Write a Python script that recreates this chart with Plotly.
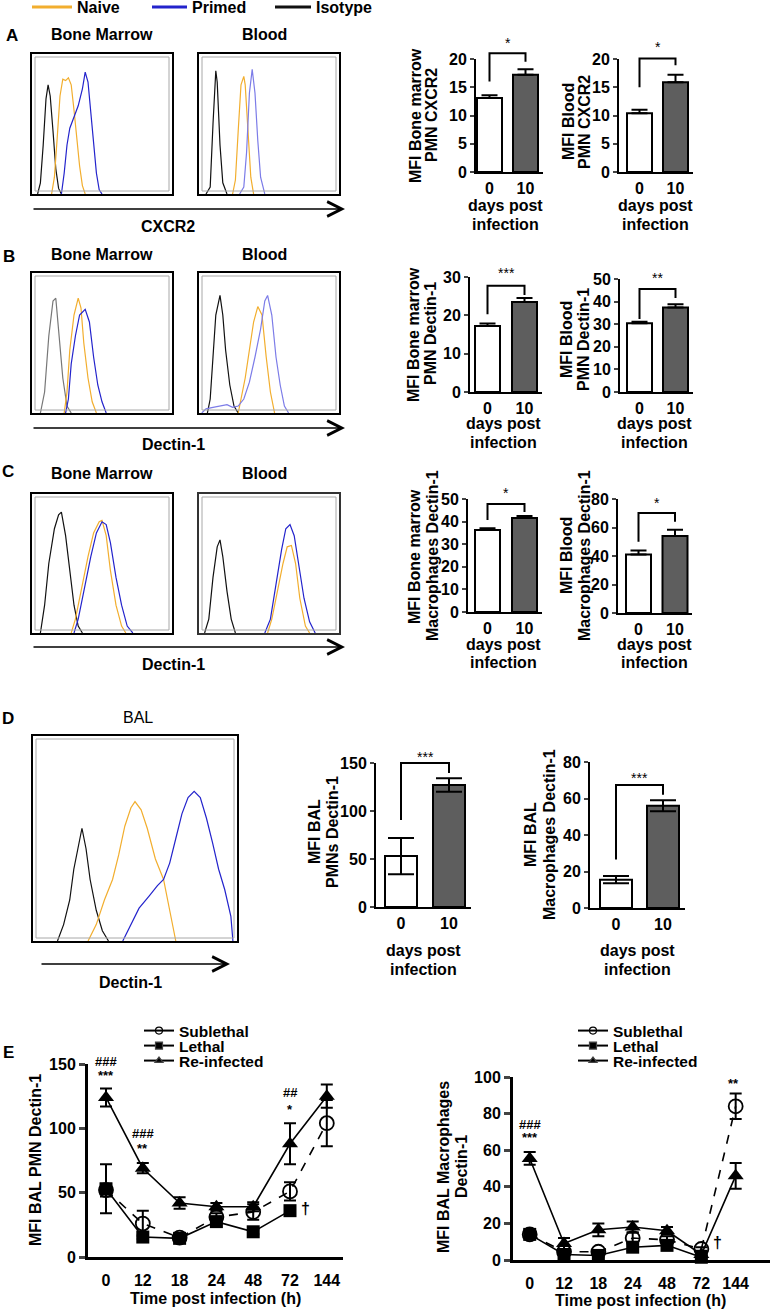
import plotly.graph_objects as go

W, H = 770, 1309
FONT = "Liberation Sans, Arial, sans-serif"
NAIVE_C = "#F2AE2E"
PRIMED_C = "#2323CC"
PRIMED_LIGHT = "#7C7CE8"
ISO_C = "#111111"
ISO_GREY = "#777777"
DARK_BAR = "#5E5E5E"

# ---------------- data ----------------
legend_names = ["Naive", "Primed", "Isotype"]

# flow histograms: (position %, height %)
A_BM_iso = [(4, 0), (6, 8), (8, 35), (10, 68), (11.5, 78), (13, 70), (15, 45), (17, 18), (19, 4), (21, 0)]
A_BM_naive = [(14, 0), (16, 12), (18, 40), (20, 70), (22, 82), (24, 81), (26, 83), (28, 78), (30, 60), (32, 40), (34, 20), (36, 6), (38, 0)]
A_BM_primed = [(21, 0), (23, 15), (25, 35), (27, 47), (30, 55), (33, 63), (36, 75), (38, 87), (40, 80), (42, 60), (44, 40), (46, 15), (48, 3), (50, 0)]
A_BL_iso = [(5, 0), (8, 5), (10, 50), (12, 88), (13, 80), (15, 35), (17, 8), (20, 0)]
A_BL_naive = [(24, 0), (26, 10), (28, 45), (30, 78), (32, 84), (33, 78), (35, 45), (37, 12), (39, 0)]
A_BL_primed = [(29, 0), (32, 5), (34, 30), (36, 72), (38, 89), (40, 72), (42, 38), (44, 12), (47, 0)]
B_BM_iso = [(6, 0), (9, 15), (12, 55), (15, 80), (17, 82), (19, 60), (22, 25), (25, 5), (28, 0)]
B_BM_naive = [(23, 0), (25, 15), (27, 45), (30, 70), (33, 82), (35, 75), (37, 50), (40, 25), (43, 8), (46, 0)]
B_BM_primed = [(24, 0), (26, 10), (28, 35), (31, 55), (34, 70), (38, 74), (41, 65), (44, 40), (47, 20), (50, 8), (53, 0)]
B_BL_iso = [(6, 0), (8, 10), (10, 40), (12, 70), (15, 84), (17, 70), (19, 45), (22, 20), (25, 5), (28, 0)]
B_BL_naive = [(28, 0), (30, 10), (33, 25), (36, 45), (39, 65), (42, 76), (45, 70), (48, 40), (51, 15), (54, 0)]
B_BL_primed = [(2, 0), (5, 3), (10, 4), (15, 5), (20, 6), (24, 4), (28, 5), (32, 10), (36, 22), (40, 40), (44, 60), (47, 80), (49, 84), (52, 70), (55, 40), (58, 20), (61, 5), (64, 0)]
C_BM_iso = [(6, 0), (9, 20), (12, 50), (16, 75), (19, 85), (21, 87), (24, 70), (27, 45), (30, 20), (33, 5), (36, 0)]
C_BM_naive = [(28, 0), (31, 10), (35, 30), (40, 55), (44, 72), (48, 80), (50, 81), (53, 70), (56, 45), (60, 20), (64, 5), (67, 0)]
C_BM_primed = [(30, 0), (33, 10), (37, 30), (42, 55), (46, 72), (50, 80), (53, 78), (56, 65), (60, 40), (64, 20), (68, 5), (72, 0)]
C_BL_iso = [(4, 0), (7, 10), (10, 40), (13, 62), (15, 67), (17, 55), (20, 30), (23, 10), (26, 0)]
C_BL_naive = [(49, 0), (52, 10), (56, 30), (60, 50), (63, 62), (66, 63), (69, 50), (72, 25), (76, 5), (79, 0)]
C_BL_primed = [(47, 0), (51, 10), (55, 35), (59, 60), (62, 75), (65, 78), (68, 70), (71, 50), (75, 25), (79, 8), (83, 0)]
D_iso = [(12, 0), (15, 8), (18, 20), (20, 35), (22, 45), (24, 55), (26, 45), (28, 30), (31, 15), (34, 5), (37, 0)]
D_naive = [(27, 0), (31, 8), (35, 20), (39, 30), (42, 42), (45, 56), (48, 65), (50, 68), (53, 64), (56, 55), (60, 40), (64, 30), (67, 15), (70, 0)]
D_primed = [(44, 0), (48, 8), (52, 16), (57, 22), (61, 27), (64, 30), (67, 38), (70, 50), (73, 62), (76, 70), (79, 73), (82, 70), (85, 60), (88, 48), (91, 35), (94, 25), (97, 12), (98, 0)]

# bar charts
bar_days = ["0", "10"]
A_BM_mfi = [13.1, 17.2]; A_BM_err = [0.5, 1.0]
A_BL_mfi = [10.4, 15.9]; A_BL_err = [0.6, 1.3]
B_BM_mfi = [17.2, 23.5]; B_BM_err = [0.7, 1.0]
B_BL_mfi = [30.4, 37.4]; B_BL_err = [0.7, 1.4]
C_BM_mfi = [36.3, 41.6]; C_BM_err = [0.8, 0.9]
C_BL_mfi = [41.0, 54.0]; C_BL_err = [2.8, 4.5]
D_PMN_mfi = [53, 127]; D_PMN_err = [19, 7]
D_MAC_mfi = [15.5, 56]; D_MAC_err = [2, 3]
# significance brackets: (left leg bottom, right leg bottom, top, star level, label)
A_BM_sig = (16.0, 19.5, 21.0, 22.8, "*")
A_BL_sig = (15.0, 18.9, 20.1, 22.1, "*")
B_BM_sig = (20.3, 25.3, 27.7, 31.0, "***")
B_BL_sig = (32.3, 41.6, 45.6, 50.4, "**")
C_BM_sig = (40.7, 44.2, 47.8, 52.7, "*")
C_BL_sig = (50.0, 64.0, 70.2, 77.0, "*")
D_PMN_sig = (90.6, 139.6, 150.0, 156.0, "***")
D_MAC_sig = (26.6, 62.0, 67.4, 71.5, "***")

# time course
hours = ["0", "12", "18", "24", "48", "72", "144"]
E_PMN_sub = [52, 26, 15, 31, 35, 51, 104]; E_PMN_sub_err = [5, 10, 1.5, 3, 6, 7, 18]
E_PMN_let = [53, 15.5, 14.5, 27.5, 19.6, 36, None]; E_PMN_let_err = [19, 1.5, 1.5, 2, 2, 2, None]
E_PMN_re = [124, 69, 42, 39, 39, 88, 125]; E_PMN_re_err = [7, 4, 4.5, 3, 3.5, 16, 9]
E_MAC_sub = [14, 4.5, 4.5, 12, 11, 6, 84]; E_MAC_sub_err = [2, 1, 1, 3, 2, 1, 7]
E_MAC_let = [14, 3, 2.5, 7, 8, 1.5, None]; E_MAC_let_err = [2, 1, 1, 2, 2, 1, None]
E_MAC_re = [55.5, 9, 16.5, 18, 16, 3, 46]; E_MAC_re_err = [3.5, 3, 3.5, 3, 2, 1, 7]
series_names = ["Sublethal", "Lethal", "Re-infected"]
# significance marks (category position, value, text)
E_PMN_marks = [(0, 152, "###"), (0, 141, "***"), (1, 95.6, "###"), (1, 84, "**"),
               (5, 128, "##"), (5, 115, "*"), (5.42, 38, "†")]
E_MAC_marks = [(0, 74, "###"), (0, 67, "***"), (5.93, 96.5, "**"), (5.46, 9.3, "†")]

# ---------------- helpers ----------------
fig = go.Figure()
layout = {}
annotations = []
shapes = []
counter = [0]


def new_axes():
    counter[0] += 1
    return counter[0]


def xname(n):
    return "xaxis" if n == 1 else f"xaxis{n}"


def yname(n):
    return "yaxis" if n == 1 else f"yaxis{n}"


def xr(n):
    return "x" if n == 1 else f"x{n}"


def yr(n):
    return "y" if n == 1 else f"y{n}"


def px(p):
    return p / W


def py(p):
    return 1 - p / H


def text(x, y, t, size=16, bold=True, angle=0, xanchor="center", color="black"):
    annotations.append(dict(x=px(x), y=py(y), xref="paper", yref="paper", text=t, showarrow=False,
                            textangle=angle, xanchor=xanchor, yanchor="middle",
                            font=dict(size=size, family=FONT, color=color, weight="bold" if bold else "normal")))


def vtitle(lines_x, y, lines):
    for lx, t in zip(lines_x, lines):
        text(lx, y, t, angle=-90)


def htitle(x, lines_y, lines):
    for ly, t in zip(lines_y, lines):
        text(x, ly, t)


def arrow(x0, x1, y):
    annotations.append(dict(x=px(x1), y=py(y), ax=-(x1 - x0), ay=0, xref="paper", yref="paper",
                            axref="pixel", ayref="pixel", text="", showarrow=True, arrowhead=5,
                            arrowsize=1.8, arrowwidth=1.6, arrowcolor="black", standoff=0, startstandoff=0))


def ext_axis(n, zero_py, top_py, top_val, ext):
    """invisible y axis sharing the scale of yaxis n but reaching higher (for marks above the axis)"""
    m = new_axes()
    layout[yname(m)] = dict(domain=[py(zero_py), py(top_py - ext)],
                            range=[0, top_val * (zero_py - top_py + ext) / (zero_py - top_py)],
                            anchor=xr(n), visible=False, fixedrange=True)
    return m


def hist_panel(box, curves, framecolor="black"):
    x0, y0, x1, y1 = box
    n = new_axes()
    common = dict(showline=True, mirror=True, linecolor=framecolor, linewidth=2, showgrid=False,
                  zeroline=False, showticklabels=False, ticks="", fixedrange=True)
    layout[xname(n)] = dict(domain=[px(x0), px(x1)], range=[0, 100], anchor=yr(n), **common)
    layout[yname(n)] = dict(domain=[py(y1), py(y0)], range=[0, 100], anchor=xr(n), **common)
    for pts, color in curves:
        fig.add_trace(go.Scatter(x=[p[0] for p in pts], y=[p[1] for p in pts], mode="lines",
                                 line=dict(color=color, width=1.2), xaxis=xr(n), yaxis=yr(n),
                                 showlegend=False, hoverinfo="skip"))
    shapes.append(dict(type="rect", xref="paper", yref="paper", x0=px(x0 + 3), x1=px(x1 - 3),
                       y0=py(y1 - 3), y1=py(y0 + 3), line=dict(color="#a8a8a8", width=1)))
    return n


def bar_panel(ax_px, zero_py, top_py, ticks, c0, c1, bw_px, vals, errs, lower, sig, cap, right_pad):
    n = new_axes()
    sp = c1 - c0
    right_px = c1 + right_pad
    top_val = ticks[-1]
    layout[xname(n)] = dict(domain=[px(ax_px), px(right_px)], range=[(ax_px - c0) / sp, (right_px - c0) / sp],
                            anchor=yr(n), showline=True, linecolor="black", linewidth=2, tickvals=[0, 1],
                            ticktext=bar_days, ticks="outside", tickcolor="rgba(0,0,0,0)", ticklen=1,
                            tickfont=dict(size=16, family=FONT, weight="bold"), showgrid=False, zeroline=False,
                            fixedrange=True)
    layout[yname(n)] = dict(domain=[py(zero_py), py(top_py)], range=[0, top_val], anchor=xr(n),
                            showline=True, linecolor="black", linewidth=2, ticks="outside", ticklen=4,
                            tickwidth=2, tickvals=ticks, tickfont=dict(size=16, family=FONT, weight="bold"),
                            showgrid=False, zeroline=False, fixedrange=True)
    m = ext_axis(n, zero_py, top_py, top_val, 50)
    fig.add_trace(go.Bar(x=[0, 1], y=vals, width=bw_px / sp, xaxis=xr(n), yaxis=yr(n),
                         marker=dict(color=["white", DARK_BAR], line=dict(color="black", width=2)),
                         error_y=dict(type="data", array=errs, arrayminus=errs if lower else [0, 0],
                                      symmetric=False, thickness=2, width=cap, color="black"),
                         showlegend=False, hoverinfo="skip"))
    lb, rb, top, star_y, label = sig
    fig.add_trace(go.Scatter(x=[0, 0, 1, 1], y=[lb, top, top, rb], mode="lines",
                             line=dict(color="black", width=2), xaxis=xr(n), yaxis=yr(m),
                             showlegend=False, hoverinfo="skip"))
    annotations.append(dict(x=0.5, y=star_y, xref=xr(n), yref=yr(m), text=label, showarrow=False,
                            font=dict(size=14, family=FONT, color="black"), yanchor="middle"))
    return n


def e_panel(ax_px, right_px, zero_py, top_py, ticks, c0, sp, subs, lets, res, marks, legend_ids):
    n = new_axes()
    layout[xname(n)] = dict(domain=[px(ax_px), min(px(right_px), 1.0)],
                            range=[(ax_px - c0) / sp, (right_px - c0) / sp], anchor=yr(n),
                            showline=True, linecolor="black", linewidth=3, tickvals=list(range(len(hours))),
                            ticktext=hours, ticks="outside", tickcolor="rgba(0,0,0,0)", ticklen=7,
                            tickfont=dict(size=16, family=FONT, weight="bold"), showgrid=False,
                            zeroline=False, fixedrange=True)
    layout[yname(n)] = dict(domain=[py(zero_py), py(top_py)], range=[0, ticks[-1]], anchor=xr(n),
                            showline=True, linecolor="black", linewidth=3, ticks="outside", ticklen=6,
                            tickwidth=3, tickvals=ticks, tickfont=dict(size=16, family=FONT, weight="bold"),
                            showgrid=False, zeroline=False, fixedrange=True)
    m = ext_axis(n, zero_py, top_py, ticks[-1], 40)
    x = list(range(len(hours)))
    specs = [
        (dict(symbol="circle-open", size=14, color="black", line=dict(width=1.8)), "dash", "circle-open"),
        (dict(symbol="square", size=13, color="black"), "solid", "square"),
        (dict(symbol="triangle-up", size=14, color="black"), "solid", "triangle-up"),
    ]
    for (vals, errs), name, (mk, dash, sym), leg in zip([subs, lets, res], series_names, specs, legend_ids):
        fig.add_trace(go.Scatter(x=x, y=vals, mode="lines+markers", name=name, marker=mk,
                                 line=dict(color="black", width=1.6, dash=dash),
                                 error_y=dict(type="data", array=errs, thickness=2, width=6, color="black"),
                                 xaxis=xr(n), yaxis=yr(n), cliponaxis=False, showlegend=False,
                                 hoverinfo="skip"))
        # legend key with the small symbols of the original
        fig.add_trace(go.Scatter(x=[None], y=[None], mode="lines+markers", name=name,
                                 marker=dict(symbol=sym, size=7, color="black", line=dict(width=1.2)),
                                 line=dict(color="black", width=2), xaxis=xr(n), yaxis=yr(n),
                                 legend=leg, showlegend=True))
    for cx, cy, t in marks:
        annotations.append(dict(x=cx, y=cy, xref=xr(n), yref=yr(m), text=t, showarrow=False,
                                font=dict(size=16 if t == "†" else 13, family=FONT, color="black", weight="bold"),
                                yanchor="middle"))
    return n


def legend_at(name, x_px, y_px, itemwidth=30, size=16):
    layout[name] = dict(x=px(x_px), y=py(y_px), xanchor="left", yanchor="middle", bgcolor="rgba(0,0,0,0)",
                        font=dict(size=size, family=FONT, color="black", weight="bold"), itemwidth=itemwidth,
                        tracegroupgap=0, borderwidth=0)


# ---------------- top legend ----------------
leg_colors = [NAIVE_C, PRIMED_C, ISO_C]
leg_ids = ["legend", "legend8", "legend9"]

# ---------------- panel A ----------------
nA = hist_panel((32, 54, 172, 194), [(A_BM_iso, ISO_C), (A_BM_naive, NAIVE_C), (A_BM_primed, PRIMED_C)])
for nm, col, lid in zip(legend_names, leg_colors, leg_ids):
    fig.add_trace(go.Scatter(x=[None], y=[None], mode="lines", name=nm, line=dict(color=col, width=3),
                             xaxis=xr(nA), yaxis=yr(nA), legend=lid, showlegend=True))
hist_panel((199, 54, 339, 194), [(A_BL_iso, ISO_C), (A_BL_naive, NAIVE_C), (A_BL_primed, PRIMED_LIGHT)])
text(12, 36, "A", 17)
text(102, 35, "Bone Marrow")
text(264, 35, "Blood")
arrow(32, 345, 209)
text(168, 226, "CXCR2")
bar_panel(476, 172, 59, [0, 5, 10, 15, 20], 489.5, 525.5, 25, A_BM_mfi, A_BM_err, False, A_BM_sig, 8, 17)
bar_panel(619, 172, 59, [0, 5, 10, 15, 20], 639.5, 675.5, 25, A_BL_mfi, A_BL_err, False, A_BL_sig, 8, 17)
vtitle([416, 432], 115, ["MFI Bone marrow", "PMN CXCR2"])
vtitle([569, 585], 122, ["MFI Blood", "PMN CXCR2"])
htitle(505, [205, 224], ["days post", "infection"])
htitle(655, [205, 224], ["days post", "infection"])

# ---------------- panel B ----------------
hist_panel((32, 273, 172, 413), [(B_BM_iso, ISO_GREY), (B_BM_naive, NAIVE_C), (B_BM_primed, PRIMED_C)])
hist_panel((199, 273, 339, 413), [(B_BL_iso, ISO_C), (B_BL_naive, NAIVE_C), (B_BL_primed, PRIMED_LIGHT)])
text(9, 256, "B", 17)
text(102, 255, "Bone Marrow")
text(264, 255, "Blood")
arrow(32, 345, 428)
text(173, 445, "Dectin-1")
bar_panel(470, 392, 277, [0, 10, 20, 30], 487.5, 524.5, 25, B_BM_mfi, B_BM_err, False, B_BM_sig, 8, 17)
bar_panel(620, 392, 279, [0, 10, 20, 30, 40, 50], 639.5, 675.5, 25, B_BL_mfi, B_BL_err, False, B_BL_sig, 8, 17)
vtitle([414, 431], 334, ["MFI Bone marrow", "PMN Dectin-1"])
vtitle([567, 584], 340, ["MFI Blood", "PMN Dectin-1"])
htitle(503, [423, 442], ["days post", "infection"])
htitle(654, [423, 442], ["days post", "infection"])

# ---------------- panel C ----------------
hist_panel((32, 494, 172, 633), [(C_BM_iso, ISO_C), (C_BM_naive, NAIVE_C), (C_BM_primed, PRIMED_C)])
hist_panel((199, 494, 339, 633), [(C_BL_iso, ISO_C), (C_BL_naive, NAIVE_C), (C_BL_primed, PRIMED_C)],
           framecolor="#333333")
text(8, 472, "C", 17)
text(102, 473, "Bone Marrow")
text(264, 473, "Blood")
arrow(32, 345, 647)
text(173, 664, "Dectin-1")
bar_panel(468, 612, 499, [0, 10, 20, 30, 40, 50], 487.5, 524.5, 25, C_BM_mfi, C_BM_err, False, C_BM_sig, 8, 17)
bar_panel(618, 613, 499, [0, 20, 40, 60, 80], 638.5, 675, 25, C_BL_mfi, C_BL_err, False, C_BL_sig, 8, 17)
vtitle([414, 432], 556, ["MFI Bone marrow", "Macrophages Dectin-1"])
vtitle([566, 584], 556, ["MFI Blood", "Macrophages Dectin-1"])
htitle(503, [644, 663], ["days post", "infection"])
htitle(654, [644, 663], ["days post", "infection"])

# ---------------- panel D ----------------
hist_panel((33, 736, 237, 941), [(D_iso, ISO_C), (D_naive, NAIVE_C), (D_primed, PRIMED_C)])
text(8, 718, "D", 17)
text(138, 717, "BAL", bold=False)
arrow(40, 230, 964)
text(130, 982, "Dectin-1")
bar_panel(376, 907, 763, [0, 50, 100, 150], 401, 449, 32, D_PMN_mfi, D_PMN_err, True, D_PMN_sig, 13, 22)
bar_panel(590, 908, 762, [0, 20, 40, 60, 80], 616, 663, 32, D_MAC_mfi, D_MAC_err, True, D_MAC_sig, 13, 22)
vtitle([314, 332], 832, ["MFI BAL", "PMNs Dectin-1"])
vtitle([530, 549], 835, ["MFI BAL", "Macrophages Dectin-1"])
htitle(423, [950, 969], ["days post", "infection"])
htitle(637, [950, 969], ["days post", "infection"])

# ---------------- panel E ----------------
text(8, 1052, "E", 17)
e_panel(88, 343, 1257, 1064, [0, 50, 100, 150], 106, 36.8,
        (E_PMN_sub, E_PMN_sub_err), (E_PMN_let, E_PMN_let_err), (E_PMN_re, E_PMN_re_err),
        E_PMN_marks, ["legend2", "legend3", "legend4"])
e_panel(513, 790, 1260, 1077, [0, 20, 40, 60, 80, 100], 531, 37,
        (E_MAC_sub, E_MAC_sub_err), (E_MAC_let, E_MAC_let_err), (E_MAC_re, E_MAC_re_err),
        E_MAC_marks, ["legend5", "legend6", "legend7"])
text(35, 1160, "MFI BAL PMN Dectin-1", angle=-90)
vtitle([443, 461], 1167, ["MFI BAL Macrophages", "Dectin-1"])
text(215, 1298, "Time post infection (h)")
text(640, 1300, "Time post infection (h)")

# legends
legend_at("legend", 27, 7, itemwidth=40)
legend_at("legend8", 147, 7, itemwidth=35)
legend_at("legend9", 270, 7, itemwidth=36)
for lid, yy in zip(["legend2", "legend3", "legend4"], [1031, 1046, 1061]):
    legend_at(lid, 139, yy, size=15.5)
for lid, yy in zip(["legend5", "legend6", "legend7"], [1031, 1046, 1061]):
    legend_at(lid, 573, yy, size=15.5)

fig.update_layout(**layout)
fig.update_layout(width=W, height=H, margin=dict(l=0, r=0, t=0, b=0, autoexpand=False),
                  paper_bgcolor="white", plot_bgcolor="rgba(0,0,0,0)",
                  font=dict(family=FONT, size=16, color="black"),
                  annotations=annotations, shapes=shapes, barmode="overlay")
fig.write_html("out.html", config={"displayModeBar": False},
               post_script="document.body.style.margin='0px';")
